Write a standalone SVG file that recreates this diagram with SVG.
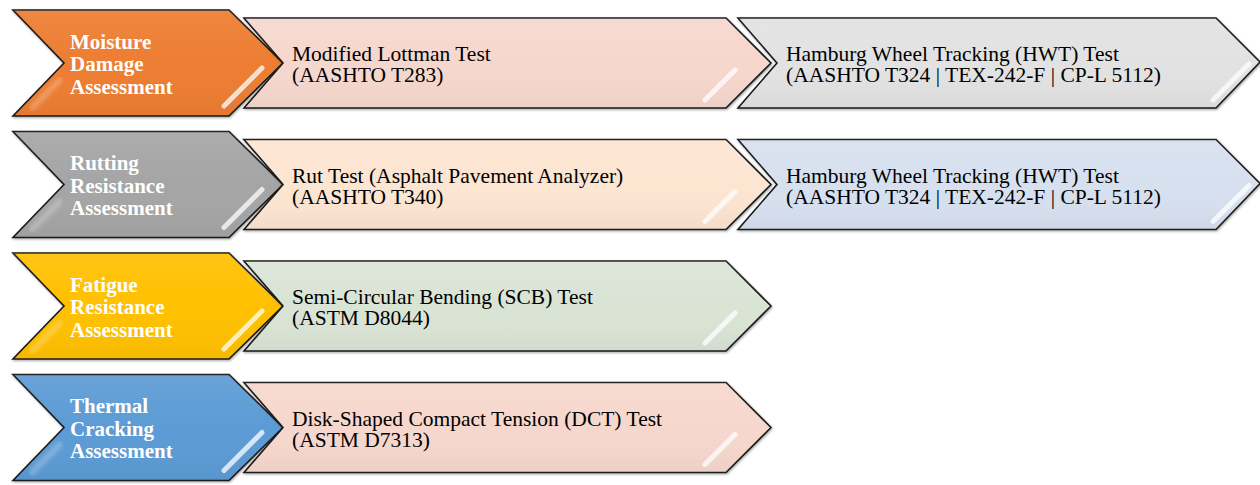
<svg xmlns="http://www.w3.org/2000/svg" xmlns:xlink="http://www.w3.org/1999/xlink" width="1260" height="485" viewBox="0 0 1260 485">
<defs>
<style>
.edge{stroke:#1a1a1a;stroke-width:1.6;stroke-linejoin:miter;filter:url(#sh)}
.gloss{fill:url(#gl);stroke:none}
.hl{stroke:#ffffff;stroke-width:5;stroke-linecap:round;opacity:0.75;filter:url(#bl)}
.hl2{stroke:#ffffff;stroke-width:6;stroke-linecap:round;opacity:0.25;filter:url(#bl2)}
.head{font-family:"Liberation Serif","Times New Roman",serif;font-weight:bold;font-size:21px;fill:#ffffff}
.body{font-family:"Liberation Serif","Times New Roman",serif;font-size:21.5px;fill:#000000}
.orange{fill:#ED7D31}.grey{fill:#A5A5A5}.gold{fill:#FFC000}.blue{fill:#5B9BD5}
.pink{fill:#F6D7CD}.peach{fill:#FCE5D1}.green{fill:#DAE4D5}.lgrey{fill:#E2E2E2}.lblue{fill:#D7E0EF}
</style>
<linearGradient id="gl" x1="0" y1="0" x2="0" y2="1">
<stop offset="0" stop-color="#ffffff" stop-opacity="0.08"/>
<stop offset="0.5" stop-color="#ffffff" stop-opacity="0"/>
<stop offset="1" stop-color="#000000" stop-opacity="0.04"/>
</linearGradient>
<filter id="sh" x="-5%" y="-10%" width="110%" height="125%">
<feDropShadow dx="0.8" dy="1.2" stdDeviation="0.8" flood-color="#000" flood-opacity="0.35"/>
</filter>
<filter id="bl"><feGaussianBlur stdDeviation="0.7"/></filter>
<filter id="bl2"><feGaussianBlur stdDeviation="2"/></filter>
<polygon id="chevL" points="13,10 229,10 283,63 229,116 13,116 64,63"/>
<polygon id="chevM" points="244,18 726,18 771,63 726,108 244,108 283,63"/>
<polygon id="chevR" points="738,18 1216,18 1260,62 1216,108 738,108 777,63"/>
</defs>
<rect width="1260" height="485" fill="#ffffff"/>

<g id="connectors"/>

<!-- Row 1 -->
<g id="moisture-damage">
<use xlink:href="#chevL" class="orange edge"/>
<use xlink:href="#chevL" class="gloss"/>
<line x1="224" y1="106" x2="262" y2="68" class="hl"/>
<line x1="32" y1="108" x2="60" y2="80" class="hl2"/>
<text class="head"><tspan x="70" y="48.5">Moisture</tspan><tspan x="70" y="71">Damage</tspan><tspan x="70" y="93.5">Assessment</tspan></text>
</g>
<g id="modified-lottman">
<use xlink:href="#chevM" class="pink edge"/>
<use xlink:href="#chevM" class="gloss"/>
<line x1="705" y1="100" x2="735" y2="70" class="hl"/>
<text class="body"><tspan x="292" y="61">Modified Lottman Test</tspan><tspan x="292" y="82">(AASHTO T283)</tspan></text>
</g>
<g id="hwt-moisture">
<use xlink:href="#chevR" class="lgrey edge"/>
<use xlink:href="#chevR" class="gloss"/>
<line x1="1213" y1="100" x2="1249" y2="64" class="hl"/>
<text class="body"><tspan x="786" y="61">Hamburg Wheel Tracking (HWT) Test</tspan><tspan x="786" y="82">(AASHTO T324 | TEX-242-F | CP-L 5112)</tspan></text>
</g>

<!-- Row 2 -->
<g id="rutting-resistance" transform="translate(0,121.5)">
<use xlink:href="#chevL" class="grey edge"/>
<use xlink:href="#chevL" class="gloss"/>
<line x1="224" y1="106" x2="262" y2="68" class="hl"/>
<line x1="32" y1="108" x2="60" y2="80" class="hl2"/>
<text class="head"><tspan x="70" y="48.5">Rutting</tspan><tspan x="70" y="71">Resistance</tspan><tspan x="70" y="93.5">Assessment</tspan></text>
</g>
<g id="rut-test" transform="translate(0,121.5)">
<use xlink:href="#chevM" class="peach edge"/>
<use xlink:href="#chevM" class="gloss"/>
<line x1="705" y1="100" x2="735" y2="70" class="hl"/>
<text class="body"><tspan x="292" y="61">Rut Test (Asphalt Pavement Analyzer)</tspan><tspan x="292" y="82">(AASHTO T340)</tspan></text>
</g>
<g id="hwt-rutting" transform="translate(0,121.5)">
<use xlink:href="#chevR" class="lblue edge"/>
<use xlink:href="#chevR" class="gloss"/>
<line x1="1213" y1="100" x2="1249" y2="64" class="hl"/>
<text class="body"><tspan x="786" y="61">Hamburg Wheel Tracking (HWT) Test</tspan><tspan x="786" y="82">(AASHTO T324 | TEX-242-F | CP-L 5112)</tspan></text>
</g>

<!-- Row 3 -->
<g id="fatigue-resistance" transform="translate(0,243)">
<use xlink:href="#chevL" class="gold edge"/>
<use xlink:href="#chevL" class="gloss"/>
<line x1="224" y1="106" x2="262" y2="68" class="hl"/>
<line x1="32" y1="108" x2="60" y2="80" class="hl2"/>
<text class="head"><tspan x="70" y="48.5">Fatigue</tspan><tspan x="70" y="71">Resistance</tspan><tspan x="70" y="93.5">Assessment</tspan></text>
</g>
<g id="scb-test" transform="translate(0,243)">
<use xlink:href="#chevM" class="green edge"/>
<use xlink:href="#chevM" class="gloss"/>
<line x1="705" y1="100" x2="735" y2="70" class="hl"/>
<text class="body"><tspan x="292" y="61">Semi-Circular Bending (SCB) Test</tspan><tspan x="292" y="82">(ASTM D8044)</tspan></text>
</g>

<!-- Row 4 -->
<g id="thermal-cracking" transform="translate(0,364.5)">
<use xlink:href="#chevL" class="blue edge"/>
<use xlink:href="#chevL" class="gloss"/>
<line x1="224" y1="106" x2="262" y2="68" class="hl"/>
<line x1="32" y1="108" x2="60" y2="80" class="hl2"/>
<text class="head"><tspan x="70" y="48.5">Thermal</tspan><tspan x="70" y="71">Cracking</tspan><tspan x="70" y="93.5">Assessment</tspan></text>
</g>
<g id="dct-test" transform="translate(0,364.5)">
<use xlink:href="#chevM" class="pink edge"/>
<use xlink:href="#chevM" class="gloss"/>
<line x1="705" y1="100" x2="735" y2="70" class="hl"/>
<text class="body"><tspan x="292" y="61">Disk-Shaped Compact Tension (DCT) Test</tspan><tspan x="292" y="82">(ASTM D7313)</tspan></text>
</g>
</svg>
